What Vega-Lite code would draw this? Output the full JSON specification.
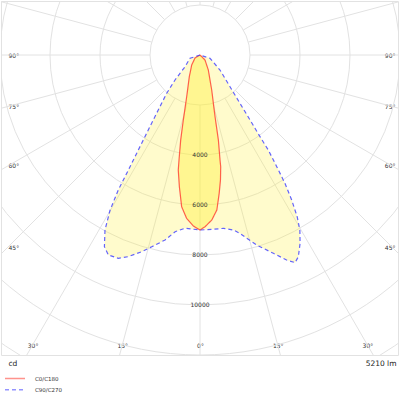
{
  "$schema": "https://vega.github.io/schema/vega-lite/v6.json",
  "width": 397,
  "height": 354,
  "autosize": "none",
  "padding": {"left": 1, "top": 1, "right": 2, "bottom": 45},
  "background": "white",
  "config": {
    "view": {"stroke": "#e2e2e2", "strokeWidth": 1},
    "font": "DejaVu Sans"
  },
  "datasets": {
    "circles": [
      {"cd": 2000}, {"cd": 4000}, {"cd": 6000}, {"cd": 8000},
      {"cd": 10000}, {"cd": 12000}, {"cd": 14000}
    ],
    "rays": [
      {"a": 0}, {"a": 15}, {"a": 30}, {"a": 45}, {"a": 60}, {"a": 75},
      {"a": 90}, {"a": 105}, {"a": 120}, {"a": 135}, {"a": 150}, {"a": 165},
      {"a": 180}, {"a": 195}, {"a": 210}, {"a": 225}, {"a": 240}, {"a": 255},
      {"a": 270}, {"a": 285}, {"a": 300}, {"a": 315}, {"a": 330}, {"a": 345}
    ],
    "ticks": [{"cd": 4000}, {"cd": 6000}, {"cd": 8000}, {"cd": 10000}],
    "curves": [
      {"series": "C0/C180", "g": -90, "cd": 0},
      {"series": "C0/C180", "g": -59, "cd": 233},
      {"series": "C0/C180", "g": -39.7, "cd": 520},
      {"series": "C0/C180", "g": -26.2, "cd": 968},
      {"series": "C0/C180", "g": -17.7, "cd": 1751},
      {"series": "C0/C180", "g": -14.4, "cd": 2684},
      {"series": "C0/C180", "g": -12.8, "cd": 3487},
      {"series": "C0/C180", "g": -11.3, "cd": 4283},
      {"series": "C0/C180", "g": -10.7, "cd": 4681},
      {"series": "C0/C180", "g": -8.9, "cd": 5333},
      {"series": "C0/C180", "g": -6.9, "cd": 6112},
      {"series": "C0/C180", "g": -4.7, "cd": 6553},
      {"series": "C0/C180", "g": -2.2, "cd": 6845},
      {"series": "C0/C180", "g": 0, "cd": 7000},
      {"series": "C0/C180", "g": 1.7, "cd": 6871},
      {"series": "C0/C180", "g": 4.1, "cd": 6616},
      {"series": "C0/C180", "g": 6.2, "cd": 6236},
      {"series": "C0/C180", "g": 7.9, "cd": 5585},
      {"series": "C0/C180", "g": 9.3, "cd": 5067},
      {"series": "C0/C180", "g": 10.5, "cd": 4544},
      {"series": "C0/C180", "g": 10.8, "cd": 4275},
      {"series": "C0/C180", "g": 12.2, "cd": 3477},
      {"series": "C0/C180", "g": 13.7, "cd": 2540},
      {"series": "C0/C180", "g": 18.5, "cd": 1476},
      {"series": "C0/C180", "g": 29, "cd": 686},
      {"series": "C0/C180", "g": 45, "cd": 283},
      {"series": "C0/C180", "g": 90, "cd": 0},
      {"series": "C90/C270", "g": -90, "cd": 0},
      {"series": "C90/C270", "g": -71.7, "cd": 421},
      {"series": "C90/C270", "g": -52, "cd": 761},
      {"series": "C90/C270", "g": -45, "cd": 1414},
      {"series": "C90/C270", "g": -41, "cd": 2030},
      {"series": "C90/C270", "g": -37.2, "cd": 2761},
      {"series": "C90/C270", "g": -34.6, "cd": 3644},
      {"series": "C90/C270", "g": -33, "cd": 4531},
      {"series": "C90/C270", "g": -31.9, "cd": 5420},
      {"series": "C90/C270", "g": -31.2, "cd": 6312},
      {"series": "C90/C270", "g": -30.1, "cd": 7169},
      {"series": "C90/C270", "g": -28.5, "cd": 7965},
      {"series": "C90/C270", "g": -26.5, "cd": 8570},
      {"series": "C90/C270", "g": -24.6, "cd": 8801},
      {"series": "C90/C270", "g": -21.9, "cd": 8764},
      {"series": "C90/C270", "g": -19.6, "cd": 8562},
      {"series": "C90/C270", "g": -16.5, "cd": 8206},
      {"series": "C90/C270", "g": -14.1, "cd": 7907},
      {"series": "C90/C270", "g": -10.7, "cd": 7531},
      {"series": "C90/C270", "g": -8, "cd": 7139},
      {"series": "C90/C270", "g": -5, "cd": 6957},
      {"series": "C90/C270", "g": 0, "cd": 7000},
      {"series": "C90/C270", "g": 4.4, "cd": 6992},
      {"series": "C90/C270", "g": 7.7, "cd": 6995},
      {"series": "C90/C270", "g": 10.8, "cd": 7125},
      {"series": "C90/C270", "g": 12.6, "cd": 7309},
      {"series": "C90/C270", "g": 14.3, "cd": 7567},
      {"series": "C90/C270", "g": 16.6, "cd": 7932},
      {"series": "C90/C270", "g": 20.3, "cd": 8457},
      {"series": "C90/C270", "g": 22.9, "cd": 8904},
      {"series": "C90/C270", "g": 24.6, "cd": 9136},
      {"series": "C90/C270", "g": 26, "cd": 8975},
      {"series": "C90/C270", "g": 28, "cd": 8528},
      {"series": "C90/C270", "g": 29.7, "cd": 8062},
      {"series": "C90/C270", "g": 31, "cd": 7548},
      {"series": "C90/C270", "g": 32.3, "cd": 6863},
      {"series": "C90/C270", "g": 33.5, "cd": 6156},
      {"series": "C90/C270", "g": 34.5, "cd": 5420},
      {"series": "C90/C270", "g": 35.7, "cd": 4680},
      {"series": "C90/C270", "g": 36.3, "cd": 4054},
      {"series": "C90/C270", "g": 37.6, "cd": 3280},
      {"series": "C90/C270", "g": 39.6, "cd": 2509},
      {"series": "C90/C270", "g": 43.4, "cd": 1746},
      {"series": "C90/C270", "g": 53.1, "cd": 1000},
      {"series": "C90/C270", "g": 71.7, "cd": 421},
      {"series": "C90/C270", "g": 90, "cd": 0}
    ]
  },
  "layer": [
    {
      "data": {"name": "circles"},
      "mark": {"type": "point", "filled": false, "color": "#e2e2e2", "strokeWidth": 1, "opacity": 1, "clip": true},
      "encoding": {
        "x": {
          "datum": 0, "type": "quantitative",
          "scale": {"domain": [-7960, 7920], "nice": false, "zero": false},
          "axis": {
            "orient": "bottom",
            "values": [-6697, -3108, 0, 3108, 6697],
            "labelExpr": "abs(datum.value) > 5000 ? '30°' : abs(datum.value) > 1000 ? '15°' : '0°'",
            "ticks": false, "tickSize": 0, "domain": false, "grid": false,
            "labelPadding": -10, "labelBaseline": "middle", "labelAlign": "center",
            "labelFont": "DejaVu Sans", "labelFontSize": 6, "labelColor": "#333",
            "labelFlush": false, "labelOverlap": false, "labelBound": false,
            "title": "5210 lm", "titleX": 395, "titleY": 8, "titleAlign": "right",
            "titleBaseline": "middle", "titleFont": "DejaVu Sans", "titleFontSize": 7.5,
            "titleFontWeight": "normal", "titleColor": "#222"
          }
        },
        "y": {
          "datum": 0, "type": "quantitative",
          "scale": {"domain": [-2160, 12000], "nice": false, "zero": false, "reverse": true},
          "axis": {
            "orient": "left",
            "values": [0, 2057, 4434, 7680],
            "labelExpr": "datum.value == 0 ? '90°' : datum.value < 3000 ? '75°' : datum.value < 6000 ? '60°' : '45°'",
            "ticks": false, "tickSize": 0, "domain": false, "grid": false,
            "labelPadding": -7, "labelAlign": "left", "labelBaseline": "middle",
            "labelFont": "DejaVu Sans", "labelFontSize": 6, "labelColor": "#333",
            "labelFlush": false, "labelOverlap": false, "labelBound": false,
            "title": "cd", "titleAngle": 0, "titleX": 7, "titleY": 362,
            "titleAlign": "left", "titleBaseline": "middle", "titleFont": "DejaVu Sans",
            "titleFontSize": 7.5, "titleFontWeight": "normal", "titleColor": "#222"
          }
        },
        "size": {
          "field": "cd", "type": "quantitative",
          "scale": {"type": "pow", "exponent": 2, "domain": [0, 16000], "range": [0, 640000]},
          "legend": null
        }
      }
    },
    {
      "data": {"name": "rays"},
      "transform": [
        {"calculate": "2000 * sin(datum.a * PI / 180)", "as": "x1"},
        {"calculate": "2000 * cos(datum.a * PI / 180)", "as": "y1"},
        {"calculate": "16000 * sin(datum.a * PI / 180)", "as": "x2"},
        {"calculate": "16000 * cos(datum.a * PI / 180)", "as": "y2"}
      ],
      "mark": {"type": "rule", "color": "#e2e2e2", "strokeWidth": 1, "clip": true},
      "encoding": {
        "x": {"field": "x1", "type": "quantitative", "scale": {"domain": [-7960, 7920], "nice": false, "zero": false}, "axis": null},
        "y": {"field": "y1", "type": "quantitative", "scale": {"domain": [-2160, 12000], "nice": false, "zero": false, "reverse": true}, "axis": null},
        "x2": {"field": "x2"},
        "y2": {"field": "y2"}
      }
    },
    {
      "data": {"name": "curves"},
      "transform": [
        {"filter": "datum.series == 'C90/C270'"},
        {"calculate": "datum.cd * sin(datum.g * PI / 180)", "as": "x"},
        {"calculate": "datum.cd * cos(datum.g * PI / 180)", "as": "y"}
      ],
      "mark": {"type": "line", "fill": "#ffee33", "fillOpacity": 0.25, "strokeOpacity": 0, "clip": true},
      "encoding": {
        "x": {"field": "x", "type": "quantitative", "scale": {"domain": [-7960, 7920], "nice": false, "zero": false}, "axis": null},
        "y": {"field": "y", "type": "quantitative", "scale": {"domain": [-2160, 12000], "nice": false, "zero": false, "reverse": true}, "axis": null},
        "order": {"field": "g", "type": "quantitative"}
      }
    },
    {
      "data": {"name": "curves"},
      "transform": [
        {"filter": "datum.series == 'C0/C180'"},
        {"calculate": "datum.cd * sin(datum.g * PI / 180)", "as": "x"},
        {"calculate": "datum.cd * cos(datum.g * PI / 180)", "as": "y"}
      ],
      "mark": {"type": "line", "fill": "#ffee33", "fillOpacity": 0.38, "strokeOpacity": 0, "clip": true},
      "encoding": {
        "x": {"field": "x", "type": "quantitative", "scale": {"domain": [-7960, 7920], "nice": false, "zero": false}, "axis": null},
        "y": {"field": "y", "type": "quantitative", "scale": {"domain": [-2160, 12000], "nice": false, "zero": false, "reverse": true}, "axis": null},
        "order": {"field": "g", "type": "quantitative"}
      }
    },
    {
      "data": {"name": "curves"},
      "transform": [
        {"calculate": "datum.cd * sin(datum.g * PI / 180)", "as": "x"},
        {"calculate": "datum.cd * cos(datum.g * PI / 180)", "as": "y"}
      ],
      "mark": {"type": "line", "strokeWidth": 1.2, "strokeOpacity": 0.8, "clip": true},
      "encoding": {
        "x": {"field": "x", "type": "quantitative", "scale": {"domain": [-7960, 7920], "nice": false, "zero": false}, "axis": null},
        "y": {"field": "y", "type": "quantitative", "scale": {"domain": [-2160, 12000], "nice": false, "zero": false, "reverse": true}, "axis": null},
        "order": {"field": "g", "type": "quantitative"},
        "color": {
          "field": "series", "type": "nominal",
          "scale": {"domain": ["C0/C180", "C90/C270"], "range": ["#ff3b30", "#3d3dff"]},
          "legend": {
            "orient": "none", "legendX": 3, "legendY": 372, "title": null,
            "symbolType": "stroke", "symbolSize": 400, "symbolStrokeWidth": 1.5, "symbolOpacity": 0.55,
            "labelFont": "DejaVu Sans", "labelFontSize": 5.5, "labelColor": "#333",
            "labelOffset": 9, "rowPadding": 0.3, "clipHeight": 11
          }
        },
        "strokeDash": {
          "field": "series", "type": "nominal",
          "scale": {"domain": ["C0/C180", "C90/C270"], "range": [[1, 0], [4, 3]]},
          "legend": {
            "orient": "none", "legendX": 3, "legendY": 372, "title": null,
            "symbolType": "stroke", "symbolSize": 400, "symbolStrokeWidth": 1.5, "symbolOpacity": 0.55,
            "labelFont": "DejaVu Sans", "labelFontSize": 5.5, "labelColor": "#333",
            "labelOffset": 9, "rowPadding": 0.3, "clipHeight": 11
          }
        }
      }
    },
    {
      "data": {"name": "ticks"},
      "mark": {"type": "text", "font": "DejaVu Sans", "fontSize": 6, "color": "#333", "align": "center", "baseline": "middle"},
      "encoding": {
        "x": {"datum": 0, "type": "quantitative", "scale": {"domain": [-7960, 7920], "nice": false, "zero": false}, "axis": null},
        "y": {
          "field": "cd", "type": "quantitative",
          "scale": {"domain": [-2160, 12000], "nice": false, "zero": false, "reverse": true},
          "axis": {
            "orient": "right",
            "values": [0, 2057, 4434, 7680],
            "labelExpr": "datum.value == 0 ? '90°' : datum.value < 3000 ? '75°' : datum.value < 6000 ? '60°' : '45°'",
            "ticks": false, "tickSize": 0, "domain": false, "grid": false,
            "labelPadding": -3, "labelAlign": "right", "labelBaseline": "middle",
            "labelFont": "DejaVu Sans", "labelFontSize": 6, "labelColor": "#333",
            "labelFlush": false, "labelOverlap": false, "labelBound": false,
            "title": null
          }
        },
        "text": {"field": "cd", "type": "quantitative", "format": "d"}
      }
    }
  ],
  "resolve": {"axis": {"x": "independent", "y": "independent"}}
}
